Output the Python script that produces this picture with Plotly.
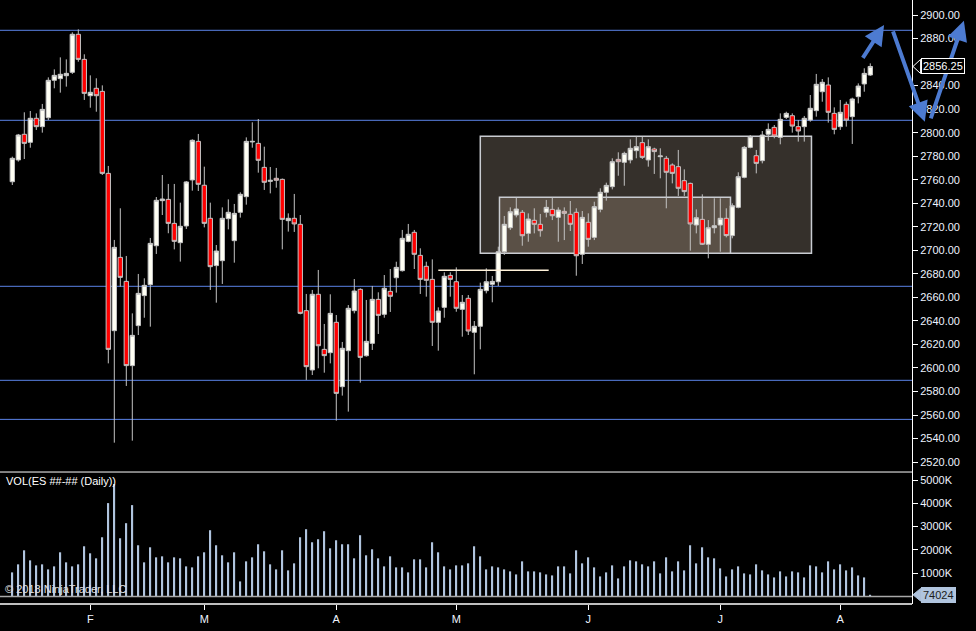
import plotly.graph_objects as go

# daily ES bars, Jan 12 .. Aug 8 2018
bar = list(range(144))
opens = [2758.3, 2776.8, 2798.6, 2791.8, 2812.2, 2805.1, 2812.7, 2844.5, 2845.9, 2848.4,
         2851.3, 2883.6, 2862.3, 2831.4, 2837.7, 2835.1, 2765.4, 2631.7, 2694.0, 2673.6,
         2602.0, 2636.0, 2661.5, 2670.8, 2703.9, 2742.2, 2743.3, 2722.9, 2706.5, 2720.7,
         2759.8, 2792.6, 2755.3, 2727.2, 2687.0, 2691.2, 2726.9, 2708.2, 2732.3, 2745.6,
         2792.1, 2790.9, 2770.5, 2758.6, 2761.2, 2760.3, 2725.2, 2727.2, 2722.1, 2648.7,
         2598.3, 2662.6, 2615.8, 2613.0, 2638.8, 2584.1, 2614.7, 2648.7, 2666.8, 2610.4,
         2620.9, 2658.3, 2645.6, 2665.1, 2676.7, 2682.7, 2707.6, 2715.3, 2695.7, 2686.4,
         2675.3, 2638.8, 2651.5, 2678.7, 2673.3, 2649.8, 2659.2, 2630.3, 2635.4, 2665.7,
         2671.1, 2673.3, 2698.8, 2719.2, 2730.0, 2732.3, 2714.4, 2725.5, 2722.1, 2732.3,
         2734.8, 2728.0, 2733.1, 2730.6, 2732.3, 2696.6, 2723.8, 2711.0, 2734.8, 2749.3,
         2754.1, 2777.3, 2774.8, 2776.8, 2784.7, 2791.5, 2776.8, 2786.1, 2779.6, 2778.2,
         2772.5, 2771.1, 2759.2, 2756.9, 2721.5, 2726.3, 2705.1, 2719.2, 2721.5, 2727.2,
         2712.5, 2736.5, 2762.0, 2787.5, 2780.4, 2776.2, 2798.6, 2804.5, 2796.0, 2813.0,
         2814.4, 2805.1, 2805.1, 2810.7, 2818.7, 2834.8, 2840.5, 2816.4, 2805.1, 2824.1,
         2813.6, 2830.6, 2841.4, 2849.0]
highs = [2779.6, 2798.9, 2817.3, 2818.4, 2816.4, 2824.4, 2847.0, 2853.8, 2864.0, 2862.3,
         2885.3, 2887.8, 2866.6, 2848.7, 2846.2, 2840.2, 2771.7, 2708.8, 2735.7, 2695.2,
         2646.4, 2679.9, 2676.2, 2710.5, 2745.3, 2764.0, 2756.4, 2756.4, 2740.5, 2758.9,
         2794.3, 2798.9, 2771.1, 2740.5, 2704.5, 2736.5, 2743.3, 2739.4, 2749.3, 2796.0,
         2808.8, 2811.6, 2788.1, 2770.8, 2770.0, 2761.0, 2731.4, 2747.9, 2730.0, 2662.9,
         2666.3, 2683.3, 2637.4, 2662.6, 2645.0, 2622.1, 2653.5, 2675.6, 2667.7, 2657.8,
         2669.7, 2664.3, 2679.0, 2684.1, 2690.3, 2717.3, 2722.4, 2717.3, 2701.7, 2690.3,
         2692.3, 2651.5, 2681.3, 2681.3, 2685.5, 2662.0, 2662.0, 2639.9, 2672.5, 2684.7,
         2678.2, 2703.1, 2729.2, 2736.5, 2745.0, 2734.2, 2731.4, 2735.7, 2730.9, 2742.8,
         2745.0, 2736.5, 2736.5, 2741.9, 2735.7, 2733.4, 2731.4, 2741.3, 2752.7, 2757.5,
         2778.2, 2783.3, 2783.8, 2794.3, 2797.2, 2796.6, 2794.3, 2787.2, 2786.7, 2780.2,
         2773.9, 2785.3, 2768.8, 2757.5, 2734.8, 2747.6, 2725.7, 2744.2, 2744.2, 2735.7,
         2739.9, 2766.3, 2788.7, 2798.0, 2785.3, 2801.4, 2807.9, 2806.5, 2816.4, 2817.8,
         2816.4, 2810.7, 2814.2, 2832.0, 2849.9, 2845.6, 2847.0, 2821.5, 2827.8, 2826.3,
         2829.7, 2841.9, 2854.7, 2858.9]
lows = [2755.5, 2775.4, 2777.6, 2787.2, 2802.3, 2800.0, 2810.7, 2837.7, 2834.0, 2839.1,
        2849.9, 2860.3, 2827.8, 2821.2, 2817.8, 2764.0, 2603.9, 2536.5, 2669.1, 2584.7,
        2538.2, 2628.0, 2642.7, 2635.1, 2696.9, 2730.0, 2714.5, 2700.8, 2690.4, 2718.1,
        2750.7, 2750.4, 2719.5, 2666.3, 2655.5, 2671.4, 2717.8, 2689.5, 2727.8, 2738.8,
        2787.2, 2766.0, 2751.3, 2748.4, 2753.2, 2700.8, 2715.9, 2715.6, 2645.6, 2589.8,
        2594.0, 2599.7, 2596.0, 2603.9, 2555.2, 2576.5, 2562.9, 2646.4, 2587.5, 2609.6,
        2615.3, 2628.9, 2642.7, 2647.6, 2664.0, 2681.9, 2706.8, 2684.1, 2662.9, 2660.6,
        2618.7, 2614.7, 2642.7, 2660.6, 2647.8, 2626.6, 2628.0, 2594.6, 2615.8, 2663.4,
        2655.8, 2669.7, 2696.0, 2717.3, 2728.0, 2703.9, 2707.3, 2714.4, 2711.6, 2728.0,
        2725.7, 2707.3, 2708.7, 2716.4, 2678.4, 2688.4, 2703.1, 2708.7, 2732.3, 2742.2,
        2751.8, 2763.4, 2754.9, 2773.9, 2778.2, 2777.6, 2771.1, 2764.9, 2761.2, 2735.7,
        2756.9, 2746.2, 2746.2, 2699.7, 2714.4, 2704.5, 2693.2, 2714.4, 2698.8, 2711.0,
        2710.2, 2735.7, 2761.2, 2786.7, 2765.4, 2773.9, 2793.2, 2795.2, 2790.1, 2811.6,
        2800.0, 2792.4, 2792.4, 2809.3, 2813.6, 2826.3, 2808.5, 2798.6, 2802.3, 2805.1,
        2790.4, 2824.9, 2834.8, 2848.2]
closes = [2778.2, 2798.0, 2790.9, 2812.2, 2805.1, 2819.8, 2844.5, 2848.7, 2849.6, 2850.4,
          2883.6, 2862.3, 2833.4, 2834.3, 2831.4, 2765.4, 2615.8, 2702.5, 2677.0, 2602.0,
          2627.7, 2663.4, 2670.2, 2705.9, 2742.5, 2743.6, 2722.9, 2707.6, 2720.4, 2758.1,
          2793.5, 2756.1, 2722.9, 2686.1, 2699.4, 2727.2, 2732.3, 2731.4, 2747.6, 2792.6,
          2792.6, 2776.5, 2757.8, 2759.5, 2759.5, 2726.3, 2727.2, 2722.4, 2646.4, 2601.1,
          2662.6, 2618.9, 2610.5, 2646.4, 2578.4, 2616.7, 2650.7, 2665.4, 2609.0, 2622.6,
          2658.3, 2644.7, 2667.7, 2660.9, 2685.5, 2710.2, 2713.6, 2696.6, 2675.3, 2674.5,
          2638.8, 2648.4, 2677.9, 2675.3, 2650.7, 2655.8, 2631.4, 2635.4, 2666.8, 2673.3,
          2673.6, 2698.8, 2722.1, 2732.8, 2735.1, 2712.4, 2726.6, 2722.1, 2716.7, 2736.5,
          2729.4, 2734.2, 2731.4, 2722.1, 2695.4, 2728.0, 2709.3, 2737.1, 2749.3, 2755.2,
          2775.3, 2775.3, 2782.4, 2786.7, 2788.1, 2779.0, 2788.1, 2783.9, 2780.2, 2766.3,
          2765.4, 2752.7, 2749.9, 2722.4, 2727.7, 2705.1, 2719.2, 2720.9, 2727.2, 2712.5,
          2737.9, 2762.6, 2787.5, 2796.6, 2773.9, 2798.0, 2802.8, 2797.2, 2811.3, 2816.4,
          2805.6, 2801.4, 2812.2, 2820.7, 2841.1, 2842.8, 2817.3, 2802.8, 2817.3, 2810.7,
          2828.6, 2839.6, 2850.4, 2856.25]
# volume in thousands of contracts
volume_k = [1035, 1380, 1983, 1552, 1336, 1380, 1164, 1293, 1897, 1466,
            1293, 1380, 2156, 1854, 1638, 2543, 4009, 4828, 2500, 3147,
            3923, 2199, 1466, 2112, 1681, 1724, 1466, 1681, 1638, 1293,
            1250, 1724, 1897, 2845, 2199, 1768, 1466, 1897, 647, 1509,
            1681, 2242, 1940, 1380, 1164, 1983, 1121, 1423, 2543, 2888,
            2328, 2457, 2802, 2069, 2414, 2242, 2242, 1638, 2630, 1768,
            2026, 1638, 1293, 1724, 1250, 1250, 1035, 1595, 1595, 1250,
            2328, 1897, 1293, 1164, 1336, 1336, 1423, 2156, 1724, 1164,
            1293, 1250, 1164, 1078, 948, 1509, 1078, 1078, 1035, 948,
            905, 1293, 1293, 992, 1983, 1423, 1681, 1250, 862, 1035,
            1336, 776, 1293, 1552, 1509, 1380, 1293, 1509, 992, 1681,
            1078, 1509, 1121, 2199, 1423, 2112, 1681, 1638, 1207, 862,
            1164, 1293, 992, 948, 1380, 1121, 948, 819, 1078, 862,
            1078, 1035, 819, 1336, 1293, 1035, 1509, 1164, 1380, 1121,
            1250, 905, 819, 74.024]

month_bars = [13, 32, 54, 74, 96, 118, 138]
month_labels = ["F", "M", "A", "M", "J", "J", "A"]
# 2860 sits under the last-price marker, so it is not labelled
price_ticks = [p for p in range(2520, 2901, 20) if p != 2860]
vol_ticks = [1000, 2000, 3000, 4000, 5000]

level_lines = [2887.0, 2810.5, 2669.4, 2589.5, 2556.3]
# zones: first bar, last bar, low, high
zone_outer = [78.0, 133.2, 2697.4, 2796.9]
zone_inner = [81.2, 119.7, 2697.6, 2745.0]
pivot_line = [71.0, 89.4, 2683.0]
# arrows: tail bar, tail price, head bar, head price
arrows = [[141.6, 2862.3, 145.3, 2891.5],
          [146.7, 2887.3, 152.1, 2809.3],
          [153.0, 2810.8, 158.6, 2895.2]]

AXPOS = 912 / 976
WHITE = "#eef3ff"
FONT = "Liberation Sans"

fig = go.Figure()
fig.add_trace(go.Bar(x=bar, y=volume_k, width=0.28, yaxis="y2",
                     marker=dict(color="#b0c4de", line=dict(width=0)), hoverinfo="skip"))
fig.add_trace(go.Candlestick(
    x=bar, open=opens, high=highs, low=lows, close=closes, whiskerwidth=0,
    increasing=dict(fillcolor="#fffff4", line=dict(color="#c4c4c4", width=1)),
    decreasing=dict(fillcolor="#ff0000", line=dict(color="#c4c4c4", width=1))))

shapes = []
# zones behind the candles
for z, fill in [(zone_outer, "#35302b"), (zone_inner, "#5a5046")]:
    shapes.append(dict(type="rect", xref="x", yref="y", x0=z[0], x1=z[1], y0=z[2], y1=z[3],
                       fillcolor=fill, line=dict(color="#c9ccd2", width=1.5), layer="below"))
for lv in level_lines:
    shapes.append(dict(type="line", xref="paper", yref="y", x0=0, x1=AXPOS, y0=lv, y1=lv,
                       line=dict(color="#5a82e6", width=1), layer="below"))
shapes.append(dict(type="line", xref="x", yref="y", x0=pivot_line[0], x1=pivot_line[1],
                   y0=pivot_line[2], y1=pivot_line[2], line=dict(color="#fff2da", width=1.5)))
# panel frame
shapes.append(dict(type="line", xref="paper", yref="paper", x0=0, x1=AXPOS, y0=0.2185, y1=0.2185,
                   line=dict(color="white", width=1)))
shapes.append(dict(type="line", xref="paper", yref="paper", x0=0, x1=AXPOS, y0=0, y1=0,
                   line=dict(color="white", width=1.5)))
shapes.append(dict(type="line", xref="paper", yref="y2", x0=0, x1=AXPOS, y0=0, y1=0,
                   line=dict(color="#a8a8a8", width=1.5)))

# last price / last volume markers
last_c = closes[-1]
last_v = volume_k[-1]
shapes.append(dict(type="path", xref="paper", yref="y",
                   path=f"M {AXPOS + 0.001} {last_c} L 0.9432 {last_c + 6} L 0.9432 {last_c - 6} Z",
                   fillcolor="black", line=dict(color="white", width=1)))
shapes.append(dict(type="path", xref="paper", yref="y2",
                   path=f"M {AXPOS + 0.001} {last_v} L 0.9432 {last_v + 270} L 0.9432 {last_v - 270} Z",
                   fillcolor="#b0c4de", line=dict(color="#b0c4de", width=1)))

annotations = []
for a in arrows:
    annotations.append(dict(x=a[2], y=a[3], ax=a[0], ay=a[1], xref="x", yref="y",
                            axref="x", ayref="y", text="", showarrow=True,
                            arrowhead=2, arrowsize=1.0, arrowwidth=4, arrowcolor="#4d7bd1"))
annotations.append(dict(x=0.9432, y=last_c, xref="paper", yref="y", xanchor="left",
                        text=f"{last_c:.2f}", showarrow=False, bgcolor="black",
                        bordercolor="white", borderwidth=1, borderpad=1,
                        font=dict(family=FONT, size=11, color="white")))
annotations.append(dict(x=0.9432, y=last_v, xref="paper", yref="y2", xanchor="left",
                        text=f"{round(last_v * 1000)}", showarrow=False, bgcolor="#b0c4de",
                        bordercolor="#b0c4de", borderwidth=1, borderpad=1,
                        font=dict(family=FONT, size=11, color="#1c1c1c")))
annotations.append(dict(x=0.004, y=0.19, xref="paper", yref="paper", xanchor="left",
                        text="VOL(ES ##-## (Daily))", showarrow=False,
                        font=dict(family=FONT, size=11, color="white")))
annotations.append(dict(x=0.003, y=0.012, xref="paper", yref="paper", xanchor="left",
                        text="© 2018 NinjaTrader, LLC", showarrow=False,
                        font=dict(family=FONT, size=11, color="#e0e0e0")))

fig.update_layout(
    width=976, height=631, margin=dict(l=0, r=0, t=0, b=27),
    paper_bgcolor="black", plot_bgcolor="black", showlegend=False,
    font=dict(family=FONT, size=11, color=WHITE),
    boxgap=0.1, boxgroupgap=0.2,
    shapes=shapes, annotations=annotations,
    xaxis=dict(range=[-2.05, 160.62], domain=[0, 1], anchor="y2",
               tickvals=month_bars, ticktext=month_labels, ticks="outside", ticklen=5,
               tickcolor="white", showgrid=False, zeroline=False, showline=False,
               rangeslider=dict(visible=False), tickfont=dict(size=11, color=WHITE)),
    yaxis=dict(domain=[0.2185, 1], range=[2511.55, 2912.75], anchor="free", position=AXPOS,
               side="right", tickvals=price_ticks, tickformat=".2f", ticks="outside",
               ticklen=5, tickcolor="white", showline=True, linecolor="white", linewidth=1,
               showgrid=False, zeroline=False, tickfont=dict(size=11, color=WHITE)),
    yaxis2=dict(domain=[0, 0.2185], range=[-322, 5343], anchor="free", position=AXPOS,
                side="right", tickvals=vol_ticks, ticktext=[f"{v}K" for v in vol_ticks],
                ticks="outside", ticklen=5, tickcolor="white", showline=True,
                linecolor="white", linewidth=1, showgrid=False, zeroline=False,
                tickfont=dict(size=11, color=WHITE)),
)

# page body has an 8px default margin; drop it so the figure fills the window
fig.write_html("out.html", config={"displayModeBar": False},
               post_script="document.body.style.margin='0';"
                           "document.body.style.background='black';")
